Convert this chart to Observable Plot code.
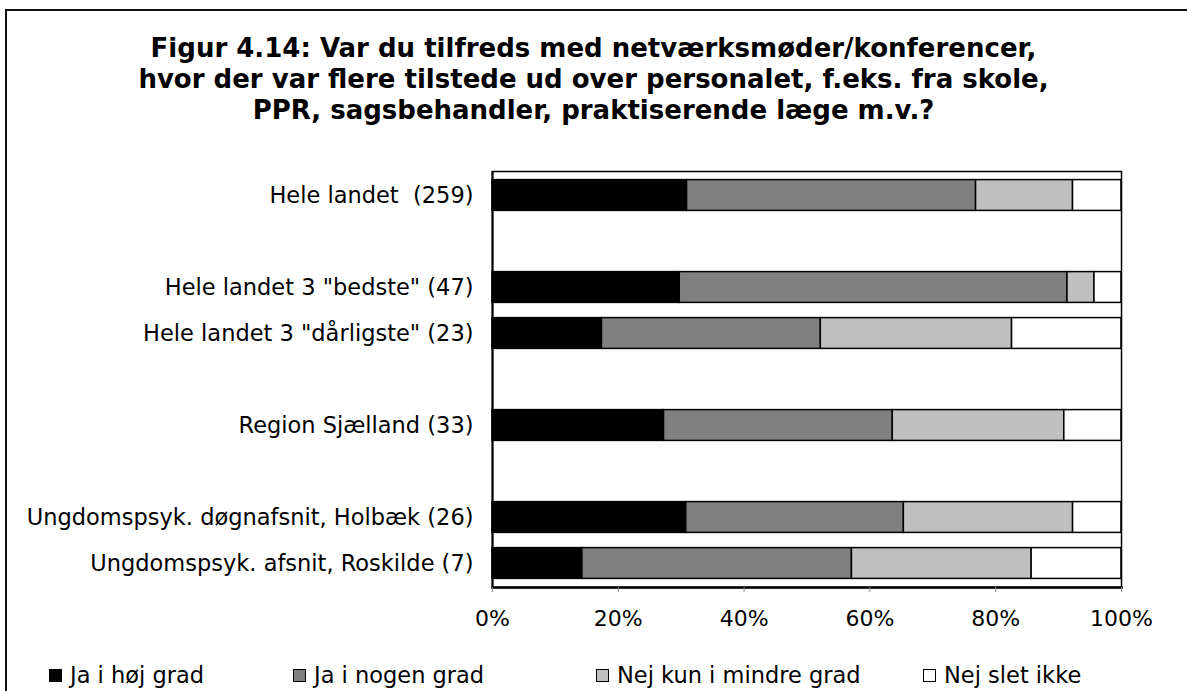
<!DOCTYPE html>
<html>
<head>
<meta charset="utf-8">
<script src="https://cdn.jsdelivr.net/npm/d3@7"></script>
<script src="https://cdn.jsdelivr.net/npm/@observablehq/plot@0.6"></script>
<style>
  html, body { margin: 0; padding: 0; background: #fff; }
  #wrap { position: relative; width: 1187px; height: 691px; overflow: hidden; font-family: "DejaVu Sans", Verdana, sans-serif; color: #000; background: #fff; }
  #border { position: absolute; left: 5px; top: 9px; width: 1300px; height: 800px; border: 2px solid #111; box-sizing: border-box; }
  #title { position: absolute; left: 0; top: 33px; width: 1187px; text-align: center; font-weight: bold; font-size: 26px; line-height: 31px; }
  #chart { position: absolute; left: 0; top: 150px; }
  #chart svg text { white-space: pre; }
  .leg { position: absolute; top: 662px; font-size: 22.5px; line-height: 26px; white-space: nowrap; }
  .sw { position: absolute; width: 11px; height: 11px; border: 1.5px solid #000; box-sizing: content-box; top: 7px; left: 0; }
  .lt { position: absolute; left: 21px; top: 0; }
</style>
</head>
<body>
<div id="wrap">
  <div id="border"></div>
  <div id="title"></div>
  <div id="chart"></div>
  <div id="legend"></div>
</div>
<script>
const title = "Figur 4.14: Var du tilfreds med netværksmøder/konferencer,\nhvor der var flere tilstede ud over personalet, f.eks. fra skole,\nPPR, sagsbehandler, praktiserende læge m.v.?";

const categories = [
  "Hele landet  (259)",
  "Hele landet 3 \"bedste\" (47)",
  "Hele landet 3 \"dårligste\" (23)",
  "Region Sjælland (33)",
  "Ungdomspsyk. døgnafsnit, Holbæk (26)",
  "Ungdomspsyk. afsnit, Roskilde (7)"
];
// row order including the empty spacer rows of the original chart
const rows = [categories[0], " ", categories[1], categories[2], "  ", categories[3], "   ", categories[4], categories[5]];

const series = ["Ja i høj grad", "Ja i nogen grad", "Nej kun i mindre grad", "Nej slet ikke"];
const colors = ["#000000", "#808080", "#c0c0c0", "#ffffff"];

const jaHoej   = [30.9, 29.8, 17.4, 27.3, 30.8, 14.3];
const jaNogen  = [45.9, 61.7, 34.8, 36.4, 34.6, 42.9];
const nejMindre= [15.4,  4.3, 30.4, 27.3, 26.9, 28.6];
const nejSlet  = [ 7.7,  4.3, 17.4,  9.1,  7.7, 14.3];

const xTicks = [0, 0.2, 0.4, 0.6, 0.8, 1];
const xTickLabels = ["0%", "20%", "40%", "60%", "80%", "100%"];

const seriesValues = [jaHoej, jaNogen, nejMindre, nejSlet];
const data = [];
series.forEach((s, si) => categories.forEach((c, ci) => data.push({cat: c, serie: s, value: seriesValues[si][ci]})));

document.getElementById("title").innerHTML = title.split("\n").join("<br>");

const plot = Plot.plot({
  width: 1187,
  height: 490,
  marginTop: 21,
  marginBottom: 53,
  marginLeft: 492,
  marginRight: 66,
  style: {fontFamily: "DejaVu Sans, Verdana, sans-serif", fontSize: "22.5px", color: "#000", background: "none", overflow: "visible"},
  x: {domain: [0, 1], label: null},
  y: {domain: rows, padding: 0, label: null},
  color: {domain: series, range: colors},
  marks: [
    Plot.barX(data, Plot.stackX({
      x: "value", y: "cat", fill: "serie", offset: "normalize",
      stroke: "#000", strokeWidth: 1.5, insetTop: 7.6, insetBottom: 7.6
    })),
    Plot.frame({stroke: "#000", strokeWidth: 1.5}),
    Plot.ruleX([0], {stroke: "#000", strokeWidth: 2}),
    Plot.frame({anchor: "bottom", stroke: "#000", strokeWidth: 2.5}),
    Plot.axisX({ticks: xTicks, tickFormat: (d) => xTickLabels[xTicks.indexOf(d)], tickSize: 5, tickPadding: 18, stroke: "#888", fill: "#000", fontSize: 22, label: null}),
    Plot.axisY({tickSize: 0, tickPadding: 19, fill: "#000", label: null})
  ]
});
document.getElementById("chart").appendChild(plot);

// legend
const legX = [49, 293, 596, 923];
const leg = document.getElementById("legend");
series.forEach((s, i) => {
  const d = document.createElement("div");
  d.className = "leg";
  d.style.left = legX[i] + "px";
  d.innerHTML = `<span class="sw" style="background:${colors[i]}"></span><span class="lt">${s}</span>`;
  leg.appendChild(d);
});
</script>
</body>
</html>
